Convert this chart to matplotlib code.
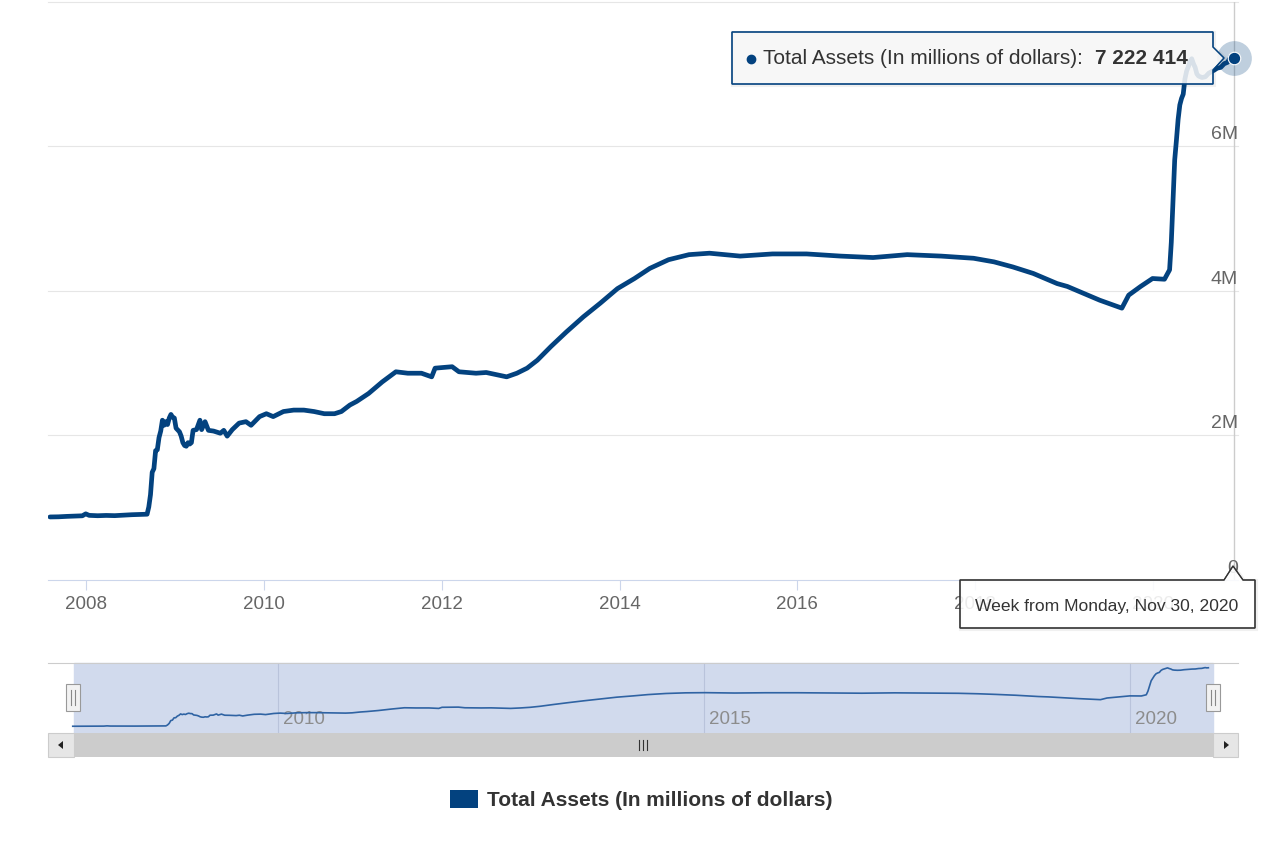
import numpy as np
import pandas as pd
import matplotlib
matplotlib.use("Agg")
import matplotlib.pyplot as plt
import matplotlib.transforms as mtransforms
from matplotlib.patches import Polygon, Rectangle

plt.rcParams['font.family'] = ['Liberation Sans', 'DejaVu Sans']

# weekly balance sheet (millions of dollars, in M)
weeks = [
    "2007-08-06", "2007-09-10", "2007-10-15", "2007-11-19", "2007-12-17", "2007-12-31",
    "2008-01-14", "2008-02-18", "2008-03-24", "2008-04-28", "2008-06-02", "2008-07-07",
    "2008-08-11", "2008-09-08", "2008-09-15", "2008-09-22", "2008-09-29", "2008-10-06",
    "2008-10-13", "2008-10-20", "2008-10-27", "2008-11-03", "2008-11-10", "2008-11-17",
    "2008-11-24", "2008-12-01", "2008-12-08", "2008-12-15", "2008-12-22", "2008-12-29",
    "2009-01-05", "2009-01-19", "2009-01-26", "2009-02-02", "2009-02-09", "2009-02-16",
    "2009-02-23", "2009-03-02", "2009-03-09", "2009-03-16", "2009-03-30", "2009-04-13",
    "2009-04-20", "2009-05-04", "2009-05-18", "2009-06-08", "2009-07-06", "2009-07-20",
    "2009-08-03", "2009-08-24", "2009-09-21", "2009-10-19", "2009-11-09", "2009-12-14",
    "2010-01-11", "2010-02-08", "2010-03-22", "2010-05-03", "2010-06-14", "2010-07-26",
    "2010-09-06", "2010-10-18", "2010-11-15", "2010-12-20", "2011-01-17", "2011-03-07",
    "2011-05-02", "2011-06-27", "2011-08-15", "2011-10-10", "2011-11-21", "2011-12-05",
    "2012-02-13", "2012-03-12", "2012-05-21", "2012-07-02", "2012-08-13", "2012-09-24",
    "2012-11-05", "2012-12-17", "2013-01-28", "2013-03-25", "2013-05-27", "2013-08-05",
    "2013-10-14", "2013-12-23", "2014-03-03", "2014-05-05", "2014-07-21", "2014-10-13",
    "2015-01-05", "2015-05-11", "2015-09-21", "2016-02-08", "2016-06-27", "2016-11-07",
    "2017-03-27", "2017-08-14", "2017-12-25", "2018-03-19", "2018-06-04", "2018-08-27",
    "2018-12-03", "2019-01-14", "2019-05-27", "2019-08-26", "2019-09-23", "2019-11-11",
    "2019-12-30", "2020-02-17", "2020-03-09", "2020-03-16", "2020-03-23", "2020-03-30",
    "2020-04-06", "2020-04-13", "2020-04-20", "2020-04-27", "2020-05-04", "2020-05-11",
    "2020-05-18", "2020-05-25", "2020-06-01", "2020-06-08", "2020-06-15", "2020-06-22",
    "2020-06-29", "2020-07-06", "2020-07-20", "2020-08-03", "2020-08-17", "2020-09-07",
    "2020-09-21", "2020-10-05", "2020-10-19", "2020-11-02", "2020-11-16", "2020-11-23",
    "2020-11-30",
]
total_assets = [
    0.872, 0.874, 0.880, 0.884, 0.888, 0.915,
    0.894, 0.889, 0.893, 0.890, 0.897, 0.903,
    0.907, 0.910, 1.01, 1.18, 1.49, 1.54,
    1.79, 1.80, 1.97, 2.06, 2.21, 2.14,
    2.19, 2.15, 2.24, 2.29, 2.25, 2.24,
    2.10, 2.05, 1.99, 1.90, 1.86, 1.85,
    1.90, 1.88, 1.90, 2.07, 2.08, 2.21,
    2.08, 2.19, 2.07, 2.06, 2.03, 2.07,
    1.99, 2.08, 2.17, 2.19, 2.14, 2.26,
    2.30, 2.26, 2.33, 2.35, 2.35, 2.33,
    2.30, 2.30, 2.33, 2.42, 2.47, 2.58,
    2.74, 2.88, 2.86, 2.86, 2.81, 2.93,
    2.95, 2.88, 2.86, 2.87, 2.84, 2.81,
    2.86, 2.93, 3.04, 3.23, 3.43, 3.64,
    3.83, 4.03, 4.17, 4.31, 4.43, 4.50,
    4.52, 4.48, 4.51, 4.51, 4.48, 4.46,
    4.50, 4.48, 4.45, 4.40, 4.33, 4.24,
    4.10, 4.06, 3.87, 3.76, 3.94, 4.06,
    4.17, 4.16, 4.29, 4.67, 5.25, 5.81,
    6.08, 6.37, 6.57, 6.66, 6.72, 6.93,
    7.04, 7.10, 7.17, 7.21, 7.14, 7.09,
    7.00, 6.97, 6.95, 6.96, 7.01, 7.05,
    7.08, 7.09, 7.14, 7.16, 7.24, 7.21,
    7.222414,
]
year_ticks = [2008, 2010, 2012, 2014, 2016, 2018, 2020]
y_gridlines = [2, 4, 6, 8]
y_labels = {0: "0", 2: "2M", 4: "4M", 6: "6M"}
nav_years = [2010, 2015, 2020]
series_name = "Total Assets (In millions of dollars)"
last_label = "7 222 414"
week_label = "Week from Monday, Nov 30, 2020"

LINE = "#03427f"
W, H = 1280, 848

dates = pd.to_datetime(weeks)

fig = plt.figure(figsize=(W / 100, H / 100), dpi=100)

# ---- main chart ----
ax = fig.add_axes([48 / W, 1 - 580 / H, 1190 / W, 578.4 / H])
ax.set_xlim(pd.Timestamp("2007-07-29"), pd.Timestamp("2020-12-15"))
ax.set_ylim(0, 8)
for v in y_gridlines:
    ax.axhline(v, color="#e6e6e6", lw=0.8, zorder=1, clip_on=False)
ax.plot(dates, total_assets, color=LINE, lw=3.4,
        solid_joinstyle="round", solid_capstyle="round", zorder=3)
ax.axvline(dates[-1], color="#cccccc", lw=1, zorder=2)
# hover halo + marker on the last week
ax.plot(dates[-1], total_assets[-1], "o", ms=25, color=LINE, alpha=0.25,
        mec="none", zorder=4, clip_on=False)
ax.plot(dates[-1], total_assets[-1], "o", ms=9, color=LINE, mec="white",
        mew=0.8, zorder=5, clip_on=False)

ax.set_xticks([pd.Timestamp(f"{y}-01-01") for y in year_ticks])
ax.set_xticklabels([str(y) for y in year_ticks])
ax.tick_params(axis="x", direction="out", length=7.2, width=0.8,
               color="#ccd6eb", labelcolor="#666666", labelsize=13.5, pad=4)
ax.set_yticks([])
for s in ["top", "left", "right"]:
    ax.spines[s].set_visible(False)
ax.spines["bottom"].set_color("#ccd6eb")
ax.spines["bottom"].set_linewidth(0.8)

lab_tr = mtransforms.offset_copy(
    mtransforms.blended_transform_factory(ax.transAxes, ax.transData),
    fig=fig, y=3, units="dots")
for v, s in y_labels.items():
    ax.text(1.0, v, s, transform=lab_tr, ha="right", va="bottom",
            fontsize=14, color="#666666", zorder=2)

# ---- navigator ----
fig.add_artist(Rectangle((74 / W, 1 - 733 / H), (1213 - 74) / W, 70 / H,
                         transform=fig.transFigure, color="#d1daed", zorder=-1))
nav = fig.add_axes([48 / W, 1 - 733 / H, 1190 / W, 70 / H])
nav.set_xlim(pd.Timestamp("2007-04-22"), pd.Timestamp("2021-04-06"))
nav.set_ylim(0.14, 7.74)
nav.patch.set_visible(False)
nav.set_xticks([])
nav.set_yticks([])
for s in ["left", "right", "bottom"]:
    nav.spines[s].set_visible(False)
nav.spines["top"].set_color("#cccccc")
nav.spines["top"].set_linewidth(0.8)
nav_tr = mtransforms.offset_copy(
    mtransforms.blended_transform_factory(nav.transData, nav.transAxes),
    fig=fig, x=5, units="dots")
for y in nav_years:
    d = pd.Timestamp(f"{y}-01-01")
    nav.axvline(d, color="#b9c3db", lw=0.8, zorder=1)
    nav.text(d, 0.2, str(y), transform=nav_tr, ha="left", va="center",
             fontsize=13.5, color="#8c8c8c", zorder=1)
nav.plot(dates, total_assets, color="#2f63a3", lw=1.2, zorder=2)

# ---- overlay: handles, scrollbar, tooltips, legend ----
ov = fig.add_axes([0, 0, 1, 1], zorder=10)
ov.set_xlim(0, W)
ov.set_ylim(H, 0)
ov.axis("off")
ov.patch.set_alpha(0)

for cx in (73, 1213):
    ov.add_patch(Rectangle((cx - 7, 684), 14, 27, fc="#f2f2f2", ec="#999999", lw=0.8))
    ov.plot([cx - 2, cx - 2], [690, 705], color="#888888", lw=0.8)
    ov.plot([cx + 2, cx + 2], [690, 705], color="#888888", lw=0.8)

ov.add_patch(Rectangle((74, 733), 1139, 24, fc="#cccccc", ec="none"))
ov.add_patch(Rectangle((48, 733), 26, 24, fc="#e6e6e6", ec="#cccccc", lw=0.8))
ov.add_patch(Rectangle((1213, 733), 25, 24, fc="#e6e6e6", ec="#cccccc", lw=0.8))
ov.add_patch(Polygon([(58, 745), (63, 741), (63, 749)], closed=True, fc="#222222", ec="none"))
ov.add_patch(Polygon([(1229, 745), (1224, 741), (1224, 749)], closed=True, fc="#222222", ec="none"))
for gx in (639, 643, 647):
    ov.plot([gx, gx], [740, 750], color="#333333", lw=0.8)


def tooltip(points, fc, ec):
    sh = [(x + 1, y + 1) for x, y in points]
    ov.add_patch(Polygon(sh, closed=True, fc="none", ec="black", lw=3, alpha=0.06))
    ov.add_patch(Polygon(points, closed=True, fc=fc, ec=ec, lw=0.9, alpha=0.88))
    ov.add_patch(Polygon(points, closed=True, fc="none", ec=ec, lw=0.9))


tooltip([(732, 32), (1213, 32), (1213, 47), (1224, 58), (1213, 70),
         (1213, 84), (732, 84)], "#f7f7f7", LINE)
ov.plot(751, 59, "o", ms=6, color=LINE)
t1 = ov.text(763, 59, series_name + ":", fontsize=15, color="#333333",
             va="center", ha="left")
ov.annotate(last_label, xy=(1, 0.5), xycoords=t1, xytext=(12, 0),
            textcoords="offset pixels", fontsize=15, fontweight="bold",
            color="#333333", va="center", ha="left")

tooltip([(960, 580), (1224, 580), (1233, 566), (1243, 580), (1255, 580),
         (1255, 628), (960, 628)], "white", "#333333")
ov.text(975, 607, week_label, fontsize=12.6, color="#333333", va="center", ha="left")

ov.add_patch(Rectangle((450, 790), 28, 18, fc=LINE, ec="none"))
ov.text(487, 800, series_name, fontsize=15, fontweight="bold",
        color="#333333", va="center", ha="left")

fig.savefig("out.png", dpi=100)
